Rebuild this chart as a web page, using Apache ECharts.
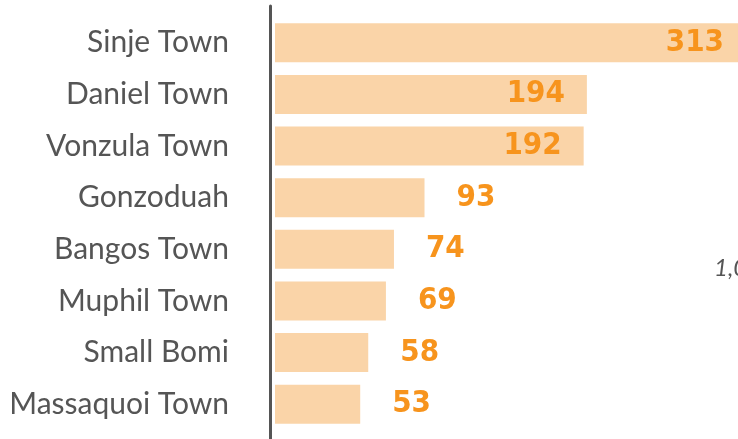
<!DOCTYPE html>
<html>
<head>
<meta charset="utf-8">
<script src="https://cdn.jsdelivr.net/npm/echarts@6/dist/echarts.min.js"></script>
<style>
  html, body { margin: 0; padding: 0; background: #fff; }
  #chart { width: 738px; height: 439px; }
</style>
</head>
<body>
<div id="chart"></div>
<script>
// towns, top to bottom
const towns = ['Sinje Town', 'Daniel Town', 'Vonzula Town', 'Gonzoduah', 'Bangos Town', 'Muphil Town', 'Small Bomi', 'Massaquoi Town']
const counts = [313, 194, 192, 93, 74, 69, 58, 53]
const strayText = '1,0'

const chart = echarts.init(document.getElementById('chart'))

const numFont = {
  fontFamily: "'Liberation Sans Narrow', 'DejaVu Sans Condensed', 'Roboto Condensed', 'Open Sans', sans-serif",
  fontWeight: 'bold',
  fontSize: 31,
  color: '#F7941D'
}

// big bars get their number inside, small ones outside
const barData = counts.map(v => ({
  value: v,
  label: v > 150
    ? { position: 'insideRight', distance: v > 300 ? 14 : 22 }
    : { position: 'right', distance: 32 }
}))

const option = {
  animation: false,
  title: {
    text: strayText,
    left: 709,
    top: 251,
    textStyle: { fontFamily: 'Lato', fontStyle: 'italic', fontWeight: 'normal', fontSize: 24, color: '#555' }
  },
  grid: [
    { left: 275, right: 0, top: 17, bottom: 9 },
    // only for the vertical rule
    { left: 270, width: 1, top: 6, bottom: 0 }
  ],
  xAxis: [
    { type: 'value', min: 0, max: 288, show: false, gridIndex: 0 },
    { type: 'value', show: false, gridIndex: 1 }
  ],
  yAxis: [
    {
      type: 'category',
      data: towns,
      inverse: true,
      gridIndex: 0,
      axisLine: { show: false },
      axisTick: { show: false },
      axisLabel: {
        margin: 46,
        fontFamily: 'Lato',
        fontSize: 30,
        color: '#555'
      }
    },
    {
      type: 'value',
      gridIndex: 1,
      axisLine: { show: true, lineStyle: { color: '#555', width: 3 } },
      axisTick: { show: false },
      axisLabel: { show: false },
      splitLine: { show: false }
    }
  ],
  series: [
    {
      type: 'bar',
      data: barData,
      barWidth: 39,
      clip: true,
      itemStyle: { color: '#FAD4A8' },
      label: Object.assign({ show: true }, numFont)
    }
  ]
}

chart.setOption(option)
</script>
</body>
</html>
